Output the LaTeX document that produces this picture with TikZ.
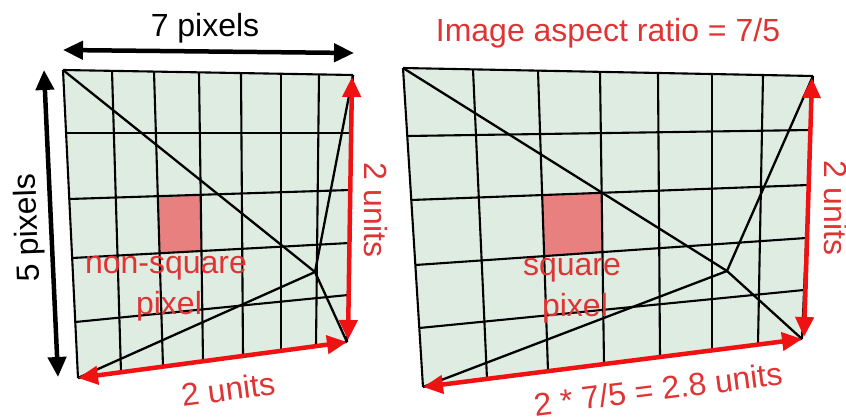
\documentclass[tikz,border=0pt]{standalone}
\usepackage{fontspec}
\setmainfont{Liberation Sans}
\usetikzlibrary{arrows.meta}
\definecolor{gridfill}{RGB}{222,236,226}
\definecolor{arrowred}{RGB}{240,18,18}
\definecolor{textred}{RGB}{224,52,52}
\definecolor{pixred}{RGB}{232,128,128}
\begin{document}
\begin{tikzpicture}[x=1pt,y=-1pt,
  gridline/.style={black, line width=2.1pt},
  diagline/.style={black, line width=2.3pt},
  dimarrow/.style={line width=4.5pt, {Triangle[length=20pt,width=18pt]}-{Triangle[length=20pt,width=18pt]}},
  redarrow/.style={dimarrow, arrowred},
  blackarrow/.style={dimarrow, black},
  lbl/.style={font=\fontsize{32}{36}\selectfont, inner sep=0pt},
  redlbl/.style={lbl, text=textred},
  blacklbl/.style={lbl, text=black}]
\useasboundingbox (0,0) rectangle (846,417);

% ---------------- left panel ----------------
\foreach \i/\xt/\yt/\xb/\yb in {0/63/70/78/378, 1/112/70.8/121/372.2, 2/154/71.6/163/366.6, 3/199/72.3/203/361.3, 4/241/73.1/243/355.9, 5/281/73.8/281/350.8, 6/319/74.4/316/346.1, 7/353/75/347/342}
  {\coordinate (Lt\i) at (\xt,\yt); \coordinate (Lb\i) at (\xb,\yb);}
\foreach \i/\xl/\yl/\xr/\yr in {0/63/70/353/75, 1/66.1/133/351.7/133, 2/69.3/199/350.4/190, 3/72.2/258/349.2/243, 4/75.3/322/348.1/295, 5/78/378/347/342}
  {\coordinate (Ll\i) at (\xl,\yl); \coordinate (Lr\i) at (\xr,\yr);}
\fill[gridfill] (Lt0) -- (Lt7) -- (Lb7) -- (Lb0) -- cycle;
\fill[pixred] (intersection of Lt2--Lb2 and Ll2--Lr2) -- (intersection of Lt3--Lb3 and Ll2--Lr2)
  -- (intersection of Lt3--Lb3 and Ll3--Lr3) -- (intersection of Lt2--Lb2 and Ll3--Lr3) -- cycle;
\foreach \i in {0,...,7} \draw[gridline] (Lt\i) -- (Lb\i);
\foreach \i in {0,...,5} \draw[gridline] (Ll\i) -- (Lr\i);
\coordinate (LP) at (315,272);
\draw[diagline] (Lt0) -- (LP) -- (Lb7);
\draw[diagline] (Lb0) -- (LP) -- (Lt7);

\coordinate (LHa) at (63,50);  \coordinate (LHb) at (354,53);
\coordinate (LVa) at (44,70);  \coordinate (LVb) at (58,377);
\coordinate (LRa) at (352,77); \coordinate (LRb) at (348,340);
\draw[blackarrow] (LHa) -- (LHb);
\draw[blackarrow] (LVa) -- (LVb);
\draw[redarrow] (LRa) -- (LRb);
\draw[redarrow] (Lb0) -- (Lb7);

\node[blacklbl] (t7) at (205,28) {7 pixels};
\node[blacklbl, rotate=92] (t5) at (29,228) {5 pixels};
\node[redlbl, rotate=-90] (tLr) at (376,210) {2 units};
\node[redlbl] (tns) at (166,268) {non-square};
\node[redlbl] (tnp) at (169,306) {pixel};
\node[redlbl, rotate=7.5] (tLb) at (228,389) {2 units};

% ---------------- right panel ----------------
\foreach \i/\xt/\yt/\xb/\yb in {0/403/68/423/387, 1/473/69.4/487/378.9, 2/538/70.6/548/371.2, 3/600/71.8/604/364.1, 4/658/72.9/660/357.0, 5/712/74.0/712/350.4, 6/763/75.0/758/344.6, 7/813/76/802/339}
  {\coordinate (Rt\i) at (\xt,\yt); \coordinate (Rb\i) at (\xb,\yb);}
\foreach \i/\xl/\yl/\xr/\yr in {0/403/68/813/76, 1/407.3/136/810.7/130, 2/411.3/200/808.4/185, 3/415.4/265/806.2/238, 4/419.3/328/804.0/290, 5/423/387/802/339}
  {\coordinate (Rl\i) at (\xl,\yl); \coordinate (Rr\i) at (\xr,\yr);}
\fill[gridfill] (Rt0) -- (Rt7) -- (Rb7) -- (Rb0) -- cycle;
\fill[pixred] (intersection of Rt2--Rb2 and Rl2--Rr2) -- (intersection of Rt3--Rb3 and Rl2--Rr2)
  -- (intersection of Rt3--Rb3 and Rl3--Rr3) -- (intersection of Rt2--Rb2 and Rl3--Rr3) -- cycle;
\foreach \i in {0,...,7} \draw[gridline] (Rt\i) -- (Rb\i);
\foreach \i in {0,...,5} \draw[gridline] (Rl\i) -- (Rr\i);
\coordinate (RP) at (727,271);
\draw[diagline] (Rt0) -- (RP) -- (Rb7);
\draw[diagline] (Rb0) -- (RP) -- (Rt7);

\coordinate (RRa) at (812,78); \coordinate (RRb) at (804,337);
\draw[redarrow] (RRa) -- (RRb);
\draw[redarrow] (Rb0) -- (Rb7);

\node[redlbl] (tar) at (608,33) {Image aspect ratio = 7/5};
\node[redlbl, rotate=-90] (tRr) at (836,208) {2 units};
\node[redlbl] (tsq) at (572,270) {square};
\node[redlbl] (tsp) at (575,308) {pixel};
\node[redlbl, rotate=7.2] (tRb) at (658,389) {2 * 7/5 = 2.8 units};
\end{tikzpicture}
\end{document}
